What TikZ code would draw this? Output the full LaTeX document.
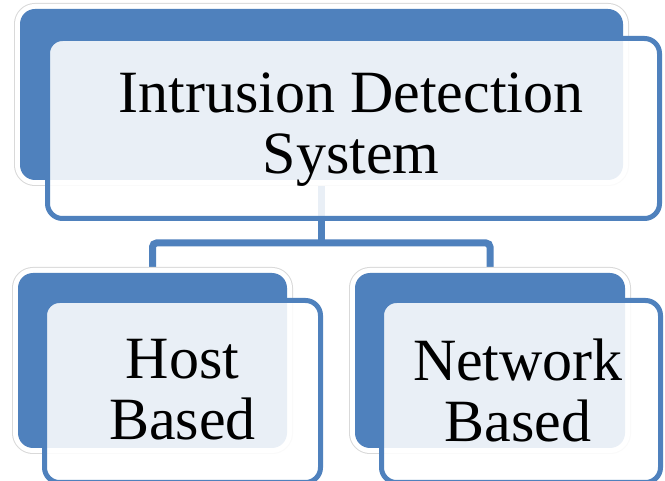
\documentclass[tikz,border=0pt]{standalone}
\usepackage{fontspec}
\setmainfont{Liberation Serif}
\definecolor{accent}{HTML}{4F81BD}
\tikzset{
  backbox/.style={rectangle, rounded corners=15pt, fill=accent, inner sep=0pt,
    preaction={draw=gray!30, line width=12pt},
    preaction={draw=white, line width=10pt}},
  frontbox/.style={rectangle, rounded corners=15pt, inner sep=0pt,
    fill=white, fill opacity=0.88, draw=accent, draw opacity=1, line width=5pt},
  conn/.style={draw=accent, line width=7pt, rounded corners=4pt},
  label/.style={align=center, inner sep=0pt, font=\fontsize{60pt}{61pt}\selectfont}
}
\begin{document}
\begin{tikzpicture}[x=1pt, y=-1pt]
\clip (0,0) rectangle (665,481);
\fill[white] (0,0) rectangle (665,481);

% connectors sit under the boxes
\coordinate (bus) at (321.5,243);
\coordinate (systop) at (321.5,180);
\coordinate (hosttop) at (152.5,273);
\coordinate (nettop) at (490,273);
\draw[conn] (systop) -- (bus);
\draw[conn] (hosttop) |- (bus) -| (nettop);

% back plates
\node[backbox, minimum width=603pt, minimum height=171pt] (sysback) at (321.5,94.5) {};
\node[backbox, minimum width=269pt, minimum height=175pt] (hostback) at (152.5,360.5) {};
\node[backbox, minimum width=270pt, minimum height=175pt] (netback) at (490,360.5) {};

% front cards
\node[frontbox, minimum width=612pt, minimum height=180pt] (sysfront) at (353.5,128.5) {};
\node[frontbox, minimum width=276pt, minimum height=182pt] (hostfront) at (182.5,391.5) {};
\node[frontbox, minimum width=279pt, minimum height=182pt] (netfront) at (521,391.5) {};

% labels
\node[label] (systext) at (351,130) {Intrusion Detection\\System};
\node[label] (hosttext) at (182.5,390) {Host\\Based};
\node[label] (nettext) at (518,390) {Network\\Based};
\end{tikzpicture}
\end{document}
